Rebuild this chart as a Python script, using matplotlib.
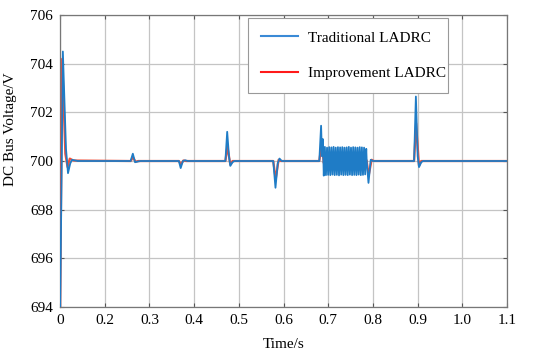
import numpy as np
import matplotlib
matplotlib.use("Agg")
import matplotlib.pyplot as plt

plt.rcParams["font.family"] = ["Liberation Serif", "DejaVu Serif"]

# x positions are in axis units where the grid runs 0.1 .. 1.1
# (the first grid line is labelled "0" in the original figure)
tick_pos = [0.1, 0.2, 0.3, 0.4, 0.5, 0.6, 0.7, 0.8, 0.9, 1.0, 1.1]
tick_lbl = ["0", "0.2", "0.3", "0.4", "0.5", "0.6", "0.7", "0.8", "0.9", "1.0", "1.1"]
y_ticks = [694, 696, 698, 700, 702, 704, 706]

# Traditional LADRC (keyframes)
blue_t = [0.100, 0.1065, 0.1135, 0.118, 0.123, 0.127, 0.140,
          0.258, 0.263, 0.268, 0.272, 0.280,
          0.366, 0.370, 0.375, 0.380, 0.386,
          0.470, 0.474, 0.478, 0.481, 0.486, 0.490,
          0.577, 0.582, 0.587, 0.591, 0.596,
          0.680, 0.684, 0.686, 0.688]
blue_v = [693.0, 704.5, 700.5, 699.5, 699.9, 700.05, 700.0,
          700.0, 700.3, 699.95, 699.97, 700.0,
          700.0, 699.71, 700.0, 700.03, 700.0,
          700.0, 701.2, 700.2, 699.8, 699.95, 700.0,
          700.0, 698.9, 699.9, 700.1, 700.0,
          700.0, 701.45, 700.2, 700.9]
# oscillation between 0.690 s and 0.785 s (alternating minima / maxima)
osc_t0, osc_t1 = 0.690, 0.785
blue_osc = [699.40, 700.58, 699.42, 700.55, 699.43, 700.57, 699.42, 700.56,
            699.44, 700.58, 699.42, 700.55, 699.43, 700.57, 699.41, 700.56,
            699.44, 700.57, 699.42, 700.55, 699.43, 700.56, 699.42, 700.58,
            699.44, 700.55, 699.42, 700.57, 699.43, 700.56, 699.42, 700.55,
            699.44, 700.57, 699.42, 700.56, 699.43, 700.55, 699.45, 700.50]
blue_t2 = [0.786, 0.790, 0.795, 0.800,
           0.892, 0.896, 0.900, 0.903, 0.908, 0.912, 1.100]
blue_v2 = [700.0, 699.1, 700.05, 700.0,
           700.0, 702.65, 700.2, 699.75, 699.95, 700.0, 700.0]

# Improvement LADRC
red_t = [0.100, 0.105, 0.112, 0.117, 0.122, 0.130,
         0.258, 0.2635, 0.269, 0.275,
         0.366, 0.3705, 0.376, 0.382,
         0.470, 0.4745, 0.481, 0.486,
         0.577, 0.5825, 0.589, 0.594,
         0.680, 0.6845, 0.689]
red_v = [693.0, 704.2, 700.3, 699.75, 700.1, 700.02,
         700.0, 700.15, 699.97, 700.0,
         700.0, 699.85, 700.02, 700.0,
         700.0, 700.6, 699.85, 700.0,
         700.0, 699.25, 700.05, 700.0,
         700.0, 700.6, 700.1]
red_osc = [699.92, 700.08, 699.93, 700.07, 699.92, 700.08, 699.93, 700.07,
           699.92, 700.08, 699.93, 700.07, 699.92, 700.08, 699.93, 700.07,
           699.92, 700.08, 699.93, 700.07, 699.92, 700.08, 699.93, 700.07,
           699.92, 700.08, 699.93, 700.07, 699.92, 700.08, 699.93, 700.07,
           699.92, 700.08, 699.93, 700.07, 699.92, 700.08, 699.93, 700.05]
red_t2 = [0.786, 0.7905, 0.797, 0.802,
          0.892, 0.8965, 0.903, 0.908, 1.100]
red_v2 = [700.0, 699.4, 700.05, 700.0,
          700.0, 701.55, 699.8, 700.0, 700.0]


def assemble(t_a, v_a, osc, t_b, v_b):
    t_osc = np.linspace(osc_t0, osc_t1, len(osc))
    t = np.concatenate([t_a, t_osc, t_b])
    v = np.concatenate([v_a, osc, v_b])
    return t, v


bt, bv = assemble(blue_t, blue_v, blue_osc, blue_t2, blue_v2)
rt, rv = assemble(red_t, red_v, red_osc, red_t2, red_v2)

fig = plt.figure(figsize=(5.5, 3.58), dpi=100)
ax = fig.add_axes([0.109, 0.1425, 0.813, 0.8155])

ax.plot(rt, rv, color="#f0503a", lw=1.6, zorder=3)
ax.plot(bt, bv, color="#1f7cc6", lw=1.3, zorder=4)

ax.set_xlim(0.1, 1.1)
ax.set_ylim(694, 706)
ax.set_xticks(tick_pos)
ax.set_xticklabels(tick_lbl)
ax.set_yticks(y_ticks)
ax.grid(True, color="#c4c4c4", lw=0.9)
ax.set_axisbelow(True)
ax.tick_params(direction="in", length=3, top=True, right=True,
               labelsize=11, color="#555555", pad=5)
for s in ax.spines.values():
    s.set_color("#777777")
    s.set_linewidth(0.9)

ax.set_xlabel("Time/s", fontsize=11)
ax.xaxis.set_label_coords(0.5, -0.105)
ax.set_ylabel("DC Bus Voltage/V", fontsize=11)
ax.yaxis.set_label_coords(-0.096, 0.61)

# legend handles
h1, = ax.plot([], [], color="#3a8ad6", lw=1.5, label="Traditional LADRC")
h2, = ax.plot([], [], color="#ff1a1a", lw=1.5, label="Improvement LADRC")
x0 = (248 - 60) / 447
w = (448 - 248) / 447
leg = ax.legend(handles=[h1, h2], loc="upper left",
                bbox_to_anchor=(x0, 0.99, w, 0.0), mode="expand",
                fontsize=11, frameon=True, fancybox=False, framealpha=1,
                edgecolor="#999999", borderpad=0.85, labelspacing=1.45,
                handlelength=2.4, handletextpad=0.7, borderaxespad=0.0)
leg.get_frame().set_linewidth(0.8)
leg.set_zorder(10)

fig.savefig("out.png", dpi=100)
